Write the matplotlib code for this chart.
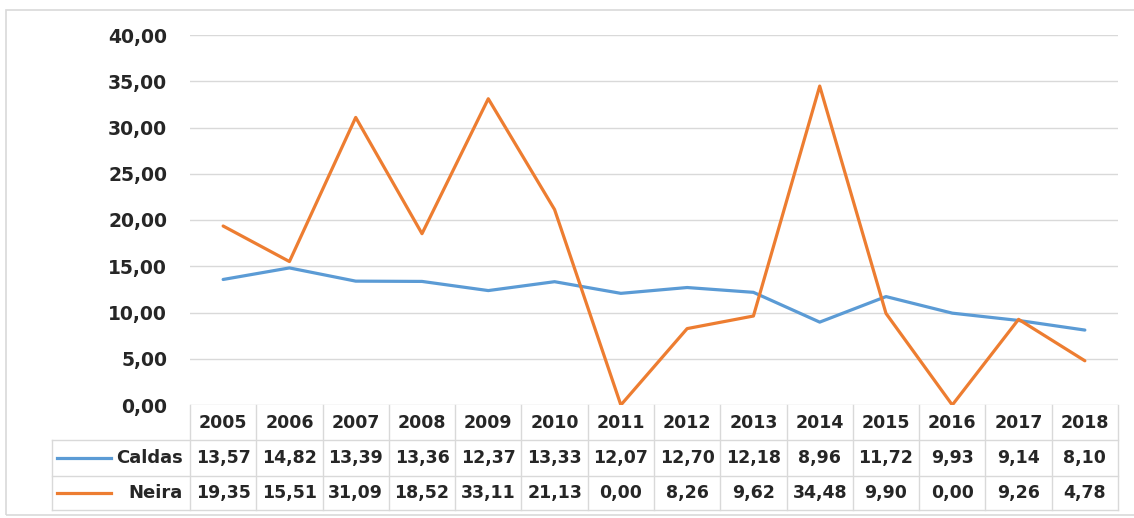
import matplotlib.pyplot as plt
import matplotlib.transforms as mtransforms
from matplotlib.lines import Line2D
from matplotlib.patches import Rectangle

# dane
lata = ["2005", "2006", "2007", "2008", "2009", "2010", "2011",
        "2012", "2013", "2014", "2015", "2016", "2017", "2018"]
caldas = [13.57, 14.82, 13.39, 13.36, 12.37, 13.33, 12.07,
          12.70, 12.18, 8.96, 11.72, 9.93, 9.14, 8.10]
neira = [19.35, 15.51, 31.09, 18.52, 33.11, 21.13, 0.00,
         8.26, 9.62, 34.48, 9.90, 0.00, 9.26, 4.78]
serie = ["Caldas", "Neira"]
kolory = ["#5B9BD5", "#ED7D31"]
y_ticks = [0, 5, 10, 15, 20, 25, 30, 35, 40]

W, H = 1134, 518
fig = plt.figure(figsize=(W / 100, H / 100), dpi=100)
plt.rcParams['font.family'] = ['DejaVu Sans']

def fx(px):
    return px / W

def fy(py):
    return 1 - py / H

x0, x1, ytop, ybot = 190, 1118, 35, 405
ax = fig.add_axes([fx(x0), fy(ybot), fx(x1) - fx(x0), fy(ytop) - fy(ybot)])

x = list(range(len(lata)))
for dane, kol in zip([caldas, neira], kolory):
    ax.plot(x, dane, color=kol, lw=2.3, solid_joinstyle='round', solid_capstyle='round', zorder=3)

ax.set_xlim(-0.5, len(lata) - 0.5)
ax.set_ylim(0, 40)
ax.set_yticks(y_ticks)
ax.set_yticklabels([f"{v:.2f}".replace(".", ",") for v in y_ticks],
                   fontsize=13.5, fontweight='bold', color='#262626')
ax.tick_params(axis='y', length=0, pad=16.5)
ax.set_xticks([])
for s in ax.spines.values():
    s.set_visible(False)
for v in y_ticks:
    ax.axhline(v, color='#D9D9D9', lw=1, zorder=1)

# tabela pod wykresem
tr = mtransforms.blended_transform_factory(ax.transData, fig.transFigure)
kreska = '#D9D9D9'
wiersze = [405, 440, 476, 510]
# pionowe linie kolumn
for i in range(len(lata) + 1):
    fig.add_artist(Line2D([i - 0.5, i - 0.5], [fy(405), fy(510)], transform=tr, color=kreska, lw=1))
# poziome linie
for wy in wiersze[1:]:
    fig.add_artist(Line2D([fx(52), fx(x1)], [fy(wy), fy(wy)], color=kreska, lw=1))
fig.add_artist(Line2D([fx(52), fx(52)], [fy(440), fy(510)], color=kreska, lw=1))

styl = dict(fontsize=12.5, fontweight='bold', color='#262626', ha='center', va='center')
for i, rok in enumerate(lata):
    fig.text(i, fy(423), rok, transform=tr, **styl)
for j, (dane, nazwa, kol) in enumerate(zip([caldas, neira], serie, kolory)):
    yc = fy((wiersze[j + 1] + wiersze[j + 2]) / 2)
    for i, v in enumerate(dane):
        fig.text(i, yc, f"{v:.2f}".replace(".", ","), transform=tr, **styl)
    fig.add_artist(Line2D([fx(57), fx(111)], [yc, yc], color=kol, lw=2.3))
    fig.text(fx(183), yc, nazwa, fontsize=13, fontweight='bold', color='#262626',
             ha='right', va='center')

# ramka
fig.add_artist(Rectangle((fx(6), fy(515)), fx(1140) - fx(6), fy(10) - fy(515),
                         fill=False, edgecolor='#D9D9D9', lw=1.2))

fig.savefig("out.png", dpi=100)
